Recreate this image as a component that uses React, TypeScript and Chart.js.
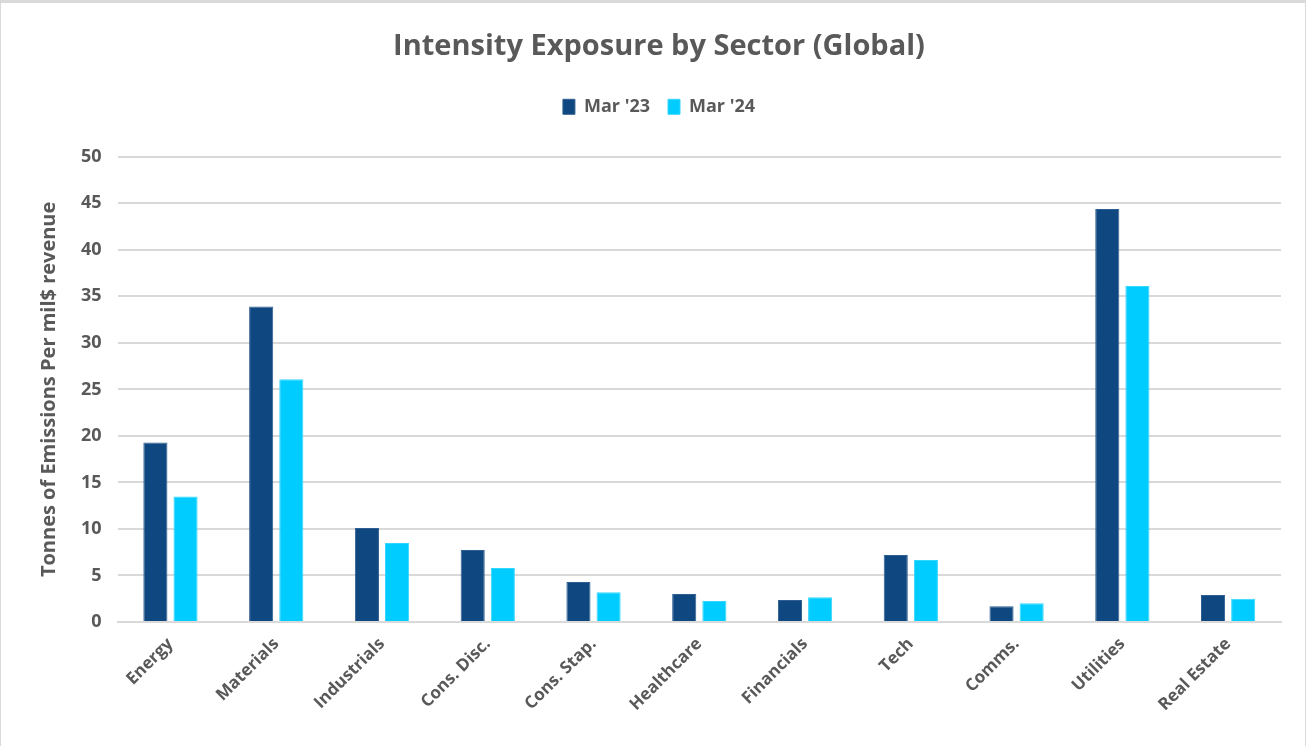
import React, { useEffect, useRef } from "react";
import { Chart, registerables } from "chart.js";

Chart.register(...registerables);

const categories = [
  "Energy",
  "Materials",
  "Industrials",
  "Cons. Disc.",
  "Cons. Stap.",
  "Healthcare",
  "Financials",
  "Tech",
  "Comms.",
  "Utilities",
  "Real Estate",
];
const mar23 = [19.3, 33.9, 10.1, 7.75, 4.3, 3.0, 2.35, 7.2, 1.7, 44.4, 2.9];
const mar24 = [13.5, 26.1, 8.5, 5.8, 3.2, 2.25, 2.65, 6.65, 2.0, 36.1, 2.5];
const seriesNames = ["Mar '23", "Mar '24"];
const yTicks = [0, 5, 10, 15, 20, 25, 30, 35, 40, 45, 50];

const FONT = "'Open Sans', 'Noto Sans', sans-serif";
const TEXT = "#595959";

const legendSpacer = {
  id: "legendSpacer",
  beforeInit(chart: any) {
    const lg = chart.legend;
    if (lg && !lg.__patched) {
      const orig = lg.fit;
      lg.fit = function () {
        orig.call(this);
        this.height += 31;
      };
      lg.__patched = true;
    }
  },
};

export default function App() {
  const ref = useRef<HTMLCanvasElement | null>(null);

  useEffect(() => {
    document.body.style.margin = "0";
    if (!ref.current) return;
    const chart = new Chart(ref.current, {
      type: "bar",
      data: {
        labels: categories,
        datasets: [
          {
            label: seriesNames[0],
            data: mar23,
            backgroundColor: "#0F4880",
            borderColor: "#2F5F92",
            borderWidth: 1,
            barPercentage: 0.8,
            categoryPercentage: 0.57,
          },
          {
            label: seriesNames[1],
            data: mar24,
            backgroundColor: "#00CCFF",
            borderColor: "#33D6FF",
            borderWidth: 1,
            barPercentage: 0.8,
            categoryPercentage: 0.57,
          },
        ],
      },
      plugins: [legendSpacer],
      options: {
        animation: false,
        responsive: true,
        maintainAspectRatio: false,
        layout: { padding: { left: 36, right: 24, top: 26, bottom: 27 } },
        plugins: {
          title: {
            display: true,
            text: "Intensity Exposure by Sector (Global)",
            color: TEXT,
            font: { family: FONT, size: 29, weight: "bold" },
            padding: { top: 0, bottom: 16 },
          },
          legend: {
            display: true,
            position: "top",
            labels: {
              color: TEXT,
              font: { family: FONT, size: 18, weight: "bold" },
              boxWidth: 12,
              boxHeight: 15,
              padding: 18,
            },
          },
          tooltip: { enabled: false },
        },
        scales: {
          x: {
            grid: { display: false },
            border: { display: true, color: "#D9D9D9", width: 2 },
            ticks: {
              color: TEXT,
              font: { family: FONT, size: 17, weight: "bold" },
              maxRotation: 45,
              minRotation: 45,
              padding: 4,
            },
          },
          y: {
            min: 0,
            max: 50,
            afterBuildTicks: (axis: any) => {
              axis.ticks = yTicks.map((v) => ({ value: v }));
            },
            grid: { color: "#D9D9D9", lineWidth: 2, drawTicks: false },
            border: { display: false },
            ticks: {
              color: TEXT,
              font: { family: FONT, size: 18, weight: "bold" },
              padding: 16,
            },
            title: {
              display: true,
              text: "Tonnes of Emissions Per mil$ revenue",
              color: TEXT,
              font: { family: FONT, size: 20, weight: "bold" },
              padding: { top: 0, bottom: 4 },
            },
          },
        },
      },
    });
    return () => chart.destroy();
  }, []);

  return (
    <div
      style={{
        position: "fixed",
        left: 0,
        top: 0,
        width: 1306,
        height: 746,
        boxSizing: "border-box",
        borderTop: "3px solid #D9D9D9",
        borderLeft: "1px solid #D9D9D9",
        borderRight: "1px solid #D9D9D9",
        background: "#fff",
      }}
    >
      <div style={{ position: "absolute", left: 0, top: 0, right: 0, bottom: 0 }}>
        <canvas ref={ref} />
      </div>
    </div>
  );
}
